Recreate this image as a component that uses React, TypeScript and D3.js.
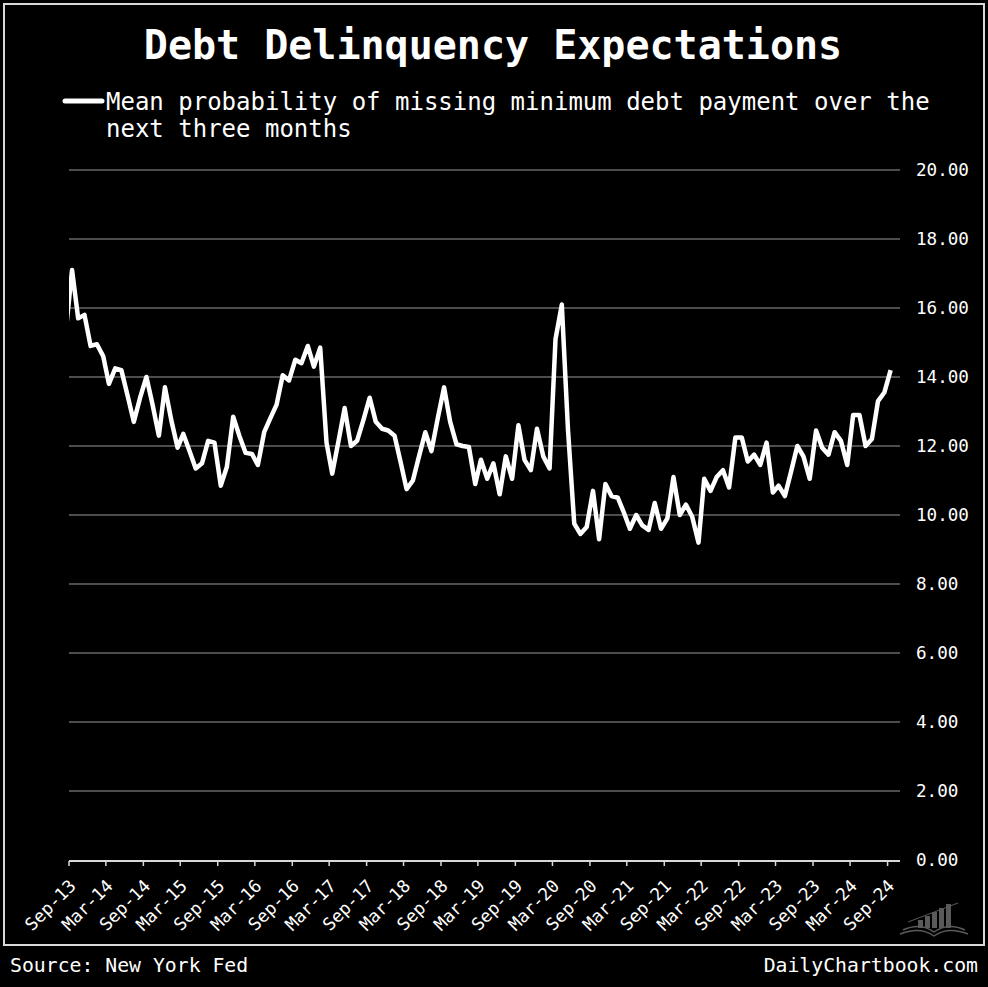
import * as d3 from 'd3';
import React from 'react';

// monthly readings, Aug-13 .. Sep-24 (percent)
const values2013 = [15.3, 17.1, 15.7, 15.8, 14.9];
const values2014 = [14.95, 14.6, 13.8, 14.25, 14.2, 13.45, 12.7, 13.4, 14.0, 13.2, 12.3, 13.7];
const values2015 = [12.75, 11.95, 12.35, 11.85, 11.35, 11.5, 12.15, 12.1, 10.85, 11.4, 12.85, 12.3];
const values2016 = [11.8, 11.77, 11.45, 12.4, 12.8, 13.2, 14.05, 13.9, 14.5, 14.4, 14.9, 14.3];
const values2017 = [14.85, 12.1, 11.2, 12.15, 13.1, 12.0, 12.15, 12.75, 13.4, 12.7, 12.5, 12.45];
const values2018 = [12.3, 11.5, 10.75, 11.0, 11.7, 12.4, 11.85, 12.8, 13.7, 12.7, 12.05, 12.0];
const values2019 = [11.97, 10.9, 11.6, 11.05, 11.5, 10.6, 11.7, 11.05, 12.6, 11.6, 11.3, 12.5];
const values2020 = [11.7, 11.35, 15.1, 16.1, 12.5, 9.75, 9.45, 9.65, 10.7, 9.3, 10.9, 10.55];
const values2021 = [10.5, 10.05, 9.6, 10.0, 9.7, 9.57, 10.35, 9.6, 9.9, 11.1, 10.0, 10.3];
const values2022 = [9.95, 9.2, 11.05, 10.7, 11.1, 11.3, 10.8, 12.25, 12.25, 11.55, 11.75, 11.45];
const values2023 = [12.1, 10.65, 10.85, 10.55, 11.25, 12.0, 11.7, 11.05, 12.45, 11.95, 11.75, 12.4];
const values2024 = [12.15, 11.45, 12.9, 12.9, 12.0, 12.2, 13.3, 13.55, 14.2];

const firstMonth = '2013-08';

const tickLabels = [
  'Sep-13', 'Mar-14', 'Sep-14', 'Mar-15', 'Sep-15', 'Mar-16', 'Sep-16', 'Mar-17',
  'Sep-17', 'Mar-18', 'Sep-18', 'Mar-19', 'Sep-19', 'Mar-20', 'Sep-20', 'Mar-21',
  'Sep-21', 'Mar-22', 'Sep-22', 'Mar-23', 'Sep-23', 'Mar-24', 'Sep-24',
];
const yTicks = [0, 2, 4, 6, 8, 10, 12, 14, 16, 18, 20];

const title = 'Debt Delinquency Expectations';
const legendLines = ['Mean probability of missing minimum debt payment over the', 'next three months'];
const sourceText = 'Source: New York Fed';
const brandText = 'DailyChartbook.com';

const FONT = '"DejaVu Sans Mono", monospace';

const App = () => {
  const width = 988;
  const height = 987;
  const left = 69;
  const right = 900;
  const top = 170;
  const bottom = 860;

  const allValues = [
    ...values2013, ...values2014, ...values2015, ...values2016, ...values2017, ...values2018,
    ...values2019, ...values2020, ...values2021, ...values2022, ...values2023, ...values2024,
  ];
  const start = d3.timeParse('%Y-%m')(firstMonth) as Date;
  // put each monthly reading mid-month
  const data = allValues.map((v, i) => ({
    date: d3.timeDay.offset(d3.timeMonth.offset(start, i), 15),
    value: v,
  }));

  const parseTick = d3.timeParse('%b-%y');
  const x = d3.scaleTime()
    .domain([new Date(2013, 8, 1), new Date(2024, 10, 1)])
    .range([left, right]);
  const y = d3.scaleLinear().domain([0, 20]).range([bottom, top]);
  const fmt = d3.format('.2f');

  const line = d3.line<any>()
    .x((d) => x(d.date))
    .y((d) => y(d.value));

  return (
    <svg width={width} height={height} style={{ position: 'absolute', left: 0, top: 0, display: 'block' }}>
      <rect x={0} y={0} width={width} height={height} fill="#000" />
      <rect x={4} y={4} width={980} height={941} fill="none" stroke="#d9d9d9" strokeWidth={2} />

      <text x={493} y={59} fill="#fff" fontFamily={FONT} fontWeight="bold" fontSize={40} textAnchor="middle">
        {title}
      </text>

      <line x1={65} x2={102} y1={101} y2={101} stroke="#fff" strokeWidth={5} strokeLinecap="round" />
      {legendLines.map((t, i) => (
        <text key={t} x={106} y={110 + i * 27} fill="#fff" fontFamily={FONT} fontSize={24}>
          {t}
        </text>
      ))}

      {yTicks.map((t) => (
        <g key={t}>
          {t > 0 && (
            <line x1={left} x2={right} y1={y(t)} y2={y(t)} stroke="#9a9a9a" strokeWidth={1} />
          )}
          <text x={916} y={y(t) + 6} fill="#fff" fontFamily={FONT} fontSize={17.6}>
            {fmt(t)}
          </text>
        </g>
      ))}

      <defs>
        <clipPath id="plot-clip">
          <rect x={left} y={0} width={right - left + 10} height={height} />
        </clipPath>
      </defs>
      <path
        d={line(data) || ''}
        fill="none"
        stroke="#fff"
        strokeWidth={4.5}
        strokeLinejoin="round"
        clipPath="url(#plot-clip)"
      />

      <line x1={left} x2={right} y1={bottom + 1} y2={bottom + 1} stroke="#d9d9d9" strokeWidth={2} />
      {tickLabels.map((lab) => {
        const tx = x(parseTick(lab) as Date);
        return (
          <g key={lab}>
            <line x1={tx} x2={tx} y1={bottom + 1} y2={bottom + 6} stroke="#d9d9d9" strokeWidth={1.5} />
            <text
              transform={`translate(${tx + 8},${bottom + 27}) rotate(-45)`}
              fill="#fff"
              fontFamily={FONT}
              fontSize={17.5}
              textAnchor="end"
            >
              {lab}
            </text>
          </g>
        );
      })}

      {/* small logo */}
      <g fill="#5a5a5a" stroke="#5a5a5a">
        {[0, 1, 2, 3, 4].map((i) => (
          <rect key={i} x={918 + i * 7} y={928 - (8 + i * 4)} width={5} height={8 + i * 4} stroke="none" />
        ))}
        <line x1={908} x2={958} y1={922} y2={903} strokeWidth={1} />
        <path d="M900 934 Q920 926 934 936 Q948 926 968 934" fill="none" strokeWidth={1.5} />
        <path d="M903 930 Q920 922 934 932 Q948 922 965 930" fill="none" strokeWidth={1.5} />
      </g>

      <text x={10} y={972} fill="#fff" fontFamily={FONT} fontSize={19.8}>
        {sourceText}
      </text>
      <text x={978} y={972} fill="#fff" fontFamily={FONT} fontSize={19.8} textAnchor="end">
        {brandText}
      </text>
    </svg>
  );
};

export default App;
